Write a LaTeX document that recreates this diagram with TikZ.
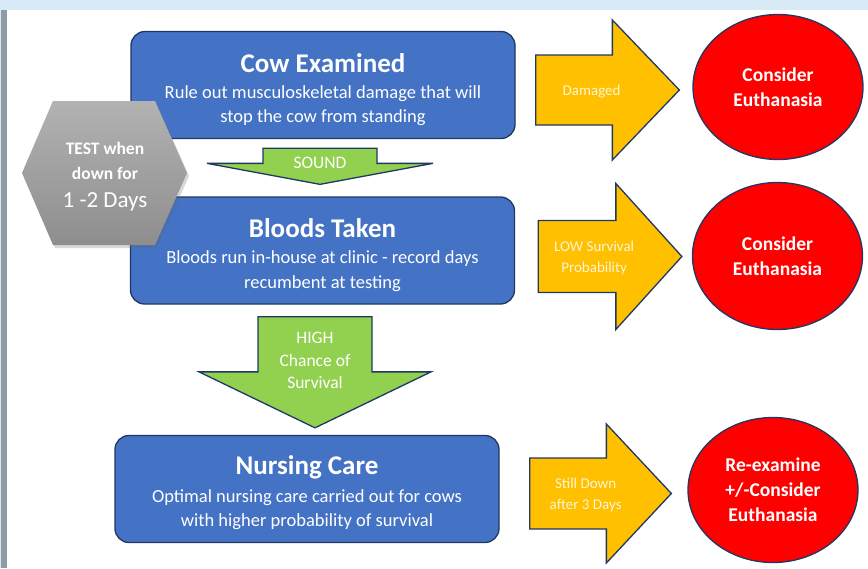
\documentclass[tikz,border=0pt]{standalone}
\usepackage{fontspec}
\setmainfont{Carlito}
\usetikzlibrary{calc,shapes.geometric,shadows}

\definecolor{bgblue}{HTML}{D9EAF7}
\definecolor{framegray}{HTML}{8E9CA6}
\definecolor{boxblue}{HTML}{4472C4}
\definecolor{navy}{HTML}{1F3864}
\definecolor{leaf}{HTML}{92D050}
\definecolor{amber}{HTML}{FFC000}
\definecolor{alarm}{HTML}{FF0000}
\definecolor{cream}{HTML}{FFF4D6}
\definecolor{hexlight}{HTML}{B2B2B2}
\definecolor{hexdark}{HTML}{8E8E8E}

% block arrow pointing right: style, tail, tip, shaft half width, head half width, head length
\newcommand\rightblock[6]{%
  \path[#1] let \p1=(#2), \p2=(#3) in
    (\x1,\y1+#4) -- (\x2-#6,\y1+#4) -- (\x2-#6,\y1+#5) -- (\x2,\y1)
    -- (\x2-#6,\y1-#5) -- (\x2-#6,\y1-#4) -- (\x1,\y1-#4) -- cycle;}
% block arrow pointing down: style, tail, tip, shaft half width, head half width, head length
\newcommand\downblock[6]{%
  \path[#1] let \p1=(#2), \p2=(#3) in
    (\x1-#4,\y1) -- (\x1+#4,\y1) -- (\x1+#4,\y2+#6) -- (\x1+#5,\y2+#6) -- (\x1,\y2)
    -- (\x1-#5,\y2+#6) -- (\x1-#4,\y2+#6) -- cycle;}

\newcommand\hexsmall{\fontsize{17.5}{25}\selectfont\bfseries}
\newcommand\hexlarge{\fontsize{23}{27}\selectfont\mdseries}

\tikzset{
  stagebox/.style={draw=navy, line width=1.3pt, fill=boxblue, rounded corners=14pt,
    minimum width=384pt, minimum height=107pt, inner sep=0pt},
  stagetitle/.style={text=white, font={\fontsize{27}{30}\selectfont\bfseries}, inner sep=0pt},
  stagetext/.style={text=white, align=center, font={\fontsize{18.5}{24.5}\selectfont}, inner sep=0pt},
  outcome/.style={ellipse, draw=navy, line width=1.3pt, fill=alarm, minimum width=170pt,
    minimum height=145pt, inner sep=0pt, text=white, align=center,
    font={\fontsize{19.5}{25}\selectfont\bfseries}},
  yellowarrow/.style={draw=navy, line width=1.3pt, fill=amber, line join=miter},
  greenarrow/.style={draw=navy, line width=1.3pt, fill=leaf, line join=miter},
  arrowtext/.style={text=cream, align=center, font={\fontsize{15}{21}\selectfont}, inner sep=0pt},
  greentext/.style={text=white, align=center, font={\fontsize{17.5}{22.5}\selectfont}, inner sep=0pt},
  hexshape/.style={top color=hexlight, bottom color=hexdark,
    drop shadow={shadow xshift=2pt, shadow yshift=-3pt, opacity=0.25, fill=black!60}},
  hextext/.style={text=white, inner sep=0pt},
}

\begin{document}
\begin{tikzpicture}[x=1pt, y=-1pt]
\useasboundingbox (0,0) rectangle (868,568);

% page frame
\fill[bgblue] (0,0) rectangle (868,568);
\fill[framegray] (1,10) rectangle (7,568);
\fill[white] (7,10) rectangle (868,568);

% process stages
\node[stagebox] (box1) at (323,85) {};
\node[stagebox] (box2) at (322.5,250.5) {};
\node[stagebox] (box3) at (307,489) {};

\node[stagetitle] (t1) at ($(box1.north)+(0,32)$) {Cow Examined};
\node[stagetext] (s1) at ($(box1.north)+(0,75)$) {Rule out musculoskeletal damage that will\\stop the cow from standing};
\node[stagetitle] (t2) at ($(box2.north)+(0,32)$) {Bloods Taken};
\node[stagetext] (s2) at ($(box2.north)+(0,75)$) {Bloods run in-house at clinic - record days\\recumbent at testing};
\node[stagetitle] (t3) at ($(box3.north)+(0,32)$) {Nursing Care};
\node[stagetext] (s3) at ($(box3.north)+(0,75)$) {Optimal nursing care carried out for cows\\with higher probability of survival};

% timing hexagon
\coordinate (hexc) at (105,173);
\path[hexshape] ($(hexc)+(-83,0)$) -- ($(hexc)+(-52,-72)$) -- ($(hexc)+(50,-72)$)
  -- ($(hexc)+(82,0)$) -- ($(hexc)+(50,72)$) -- ($(hexc)+(-52,72)$) -- cycle;
\node[hextext, font=\hexsmall] (hex1) at ($(hexc)+(0,-25)$) {TEST when};
\node[hextext, font=\hexsmall] (hex2) at ($(hexc)+(0,0)$) {down for};
\node[hextext, font=\hexlarge] (hex3) at ($(hexc)+(0,29)$) {1 -2 Days};

% outcomes
\node[outcome] (ell1) at (778,87) {Consider\\Euthanasia};
\node[outcome, minimum height=147pt] (ell2) at (777.5,256) {Consider\\Euthanasia};
\node[outcome] (ell3) at (773,490) {Re-examine\\+/-Consider\\Euthanasia};

% downward arrows between stages
\coordinate (g1tail) at ($(box1.south)+(-3,9)$);
\coordinate (g1tip) at ($(box2.north)+(-2.5,-12)$);
\downblock{greenarrow}{g1tail}{g1tip}{57pt}{113pt}{21pt}
\coordinate (g2tail) at ($(box2.south)+(-7.5,12)$);
\coordinate (g2tip) at ($(box3.north)+(8,-7)$);
\downblock{greenarrow}{g2tail}{g2tip}{57pt}{116pt}{56pt}
\node[greentext] (g1lbl) at ($(g1tail)+(0,14.5)$) {SOUND};
\node[greentext] (g2lbl) at ($(g2tail)+(0,44)$) {HIGH\\Chance of\\Survival};

% arrows from stages to outcomes
\coordinate (y1tail) at ($(box1.east)+(20,5)$);
\coordinate (y1tip) at ($(ell1.west)+(-13,0)$);
\rightblock{yellowarrow}{y1tail}{y1tip}{35pt}{70pt}{67pt}
\coordinate (y2tail) at ($(box2.east)+(23,6)$);
\coordinate (y2tip) at ($(ell2.west)+(-10,0)$);
\rightblock{yellowarrow}{y2tail}{y2tip}{36pt}{73pt}{66pt}
\coordinate (y3tail) at ($(box3.east)+(30,4.5)$);
\coordinate (y3tip) at ($(ell3.west)+(-16,0)$);
\rightblock{yellowarrow}{y3tail}{y3tip}{35.5pt}{69.5pt}{65pt}
\node[arrowtext] (y1lbl) at ($(y1tail)+(56,2)$) {Damaged};
\node[arrowtext] (y2lbl) at ($(y2tail)+(56,1)$) {LOW Survival\\Probability};
\node[arrowtext] (y3lbl) at ($(y3tail)+(56,1)$) {Still Down\\after 3 Days};
\end{tikzpicture}
\end{document}
